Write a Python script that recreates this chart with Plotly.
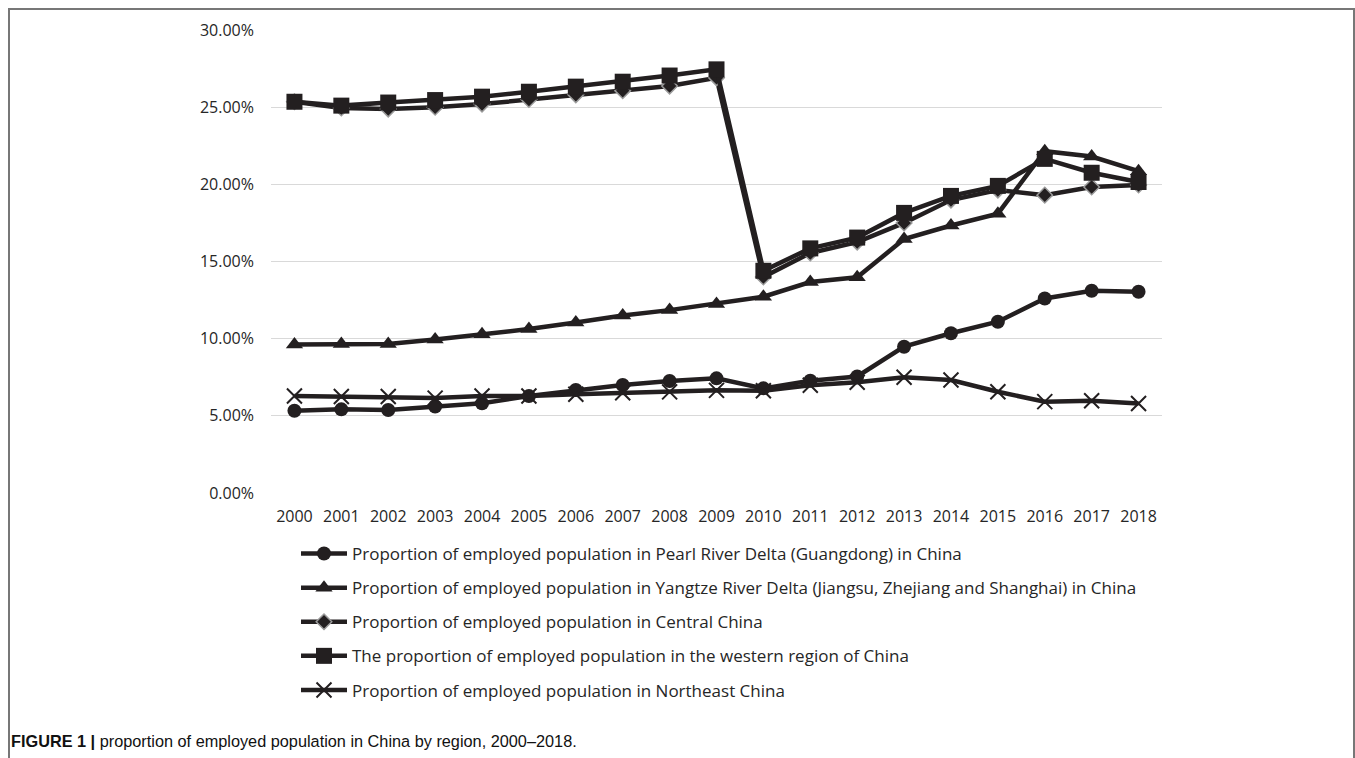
import plotly.graph_objects as go

years = [str(y) for y in range(2000, 2019)]

pearl = [5.33, 5.42, 5.38, 5.60, 5.81, 6.28, 6.67, 7.00, 7.26, 7.43, 6.78, 7.28, 7.55, 9.48, 10.35, 11.10, 12.60, 13.10, 13.04]
yangtze = [9.62, 9.65, 9.65, 9.95, 10.28, 10.62, 11.05, 11.50, 11.85, 12.25, 12.72, 13.67, 13.98, 16.45, 17.33, 18.10, 22.15, 21.80, 20.85]
central = [25.35, 24.95, 24.88, 25.00, 25.20, 25.50, 25.80, 26.07, 26.37, 26.90, 14.00, 15.55, 16.26, 17.50, 18.98, 19.63, 19.30, 19.83, 19.96]
western = [25.35, 25.10, 25.30, 25.46, 25.68, 26.00, 26.33, 26.65, 27.05, 27.45, 14.40, 15.85, 16.55, 18.15, 19.25, 19.90, 21.65, 20.75, 20.15]
northeast = [6.28, 6.25, 6.25, 6.15, 6.28, 6.28, 6.40, 6.50, 6.55, 6.65, 6.62, 6.98, 7.18, 7.50, 7.32, 6.56, 5.92, 5.98, 5.80]

names = [
    "Proportion of employed population in Pearl River Delta (Guangdong) in China",
    "Proportion of employed population in Yangtze River Delta (Jiangsu, Zhejiang and Shanghai) in China",
    "Proportion of employed population in Central China",
    "The proportion of employed population in the western region of China",
    "Proportion of employed population in Northeast China",
]
y_ticks = [0, 5, 10, 15, 20, 25, 30]
y_tick_text = ["0.00%", "5.00%", "10.00%", "15.00%", "20.00%", "25.00%", "30.00%"]

INK = "#231f20"
series = [pearl, yangtze, central, western, northeast]
symbols = ["circle", "triangle-up", "diamond", "square", "x-thin"]
msizes = [14, 15, 12, 16, 15]

W, H = 1355, 758
L, R, T, B = 271, 1355 - 1162, 30, 758 - 493
pw, ph = W - L - R, H - T - B

def px_x(x):
    return (x - L) / pw

def px_y(y):
    return (H - B - y) / ph

FONT = "Open Sans, Lato, sans-serif"

fig = go.Figure()
for i, (vals, name, sym, ms) in enumerate(zip(series, names, symbols, msizes)):
    if sym == "x-thin":
        marker = dict(symbol=sym, size=ms, color=INK, line=dict(width=2, color=INK))
    elif sym == "diamond":
        marker = dict(symbol=sym, size=ms, color=INK, line=dict(width=1.5, color="#9a9a9a"))
    else:
        marker = dict(symbol=sym, size=ms, color=INK, line=dict(width=0))
    fig.add_trace(go.Scatter(
        x=years, y=vals, name=name, mode="lines+markers",
        line=dict(color=INK, width=4.5), marker=marker,
        legendgroup=f"g{i}",
    ))

fig.update_layout(
    width=W, height=H,
    margin=dict(l=L, r=R, t=T, b=B),
    paper_bgcolor="white", plot_bgcolor="white",
    font=dict(family=FONT, size=16, color="#262626"),
    showlegend=True,
    legend=dict(
        x=px_x(296), y=px_y(536), xanchor="left", yanchor="top",
        orientation="v", tracegroupgap=9, itemwidth=46,
        font=dict(family=FONT, size=17, color="#262626"),
        bgcolor="rgba(0,0,0,0)",
    ),
    xaxis=dict(
        type="category", range=[-0.5, 18.5], showgrid=False, showline=False, zeroline=False,
        ticks="", tickfont=dict(size=16), ticklabelstandoff=12,
    ),
    yaxis=dict(
        range=[0, 30], tickmode="array", tickvals=y_ticks, ticktext=y_tick_text,
        showgrid=True, gridcolor="#d9d9d9", gridwidth=1,
        zeroline=False, showline=False, ticks="",
        tickfont=dict(size=16), ticklabelstandoff=16,
    ),
)

fig.add_shape(
    type="rect", xref="paper", yref="paper",
    x0=px_x(9), x1=px_x(1354), y0=px_y(770), y1=px_y(9),
    line=dict(color="#777777", width=2), fillcolor="rgba(0,0,0,0)", layer="above",
)

fig.add_annotation(
    xref="paper", yref="paper", x=px_x(9), y=px_y(741),
    xanchor="left", yanchor="middle", showarrow=False,
    text="<b>FIGURE 1 |</b> proportion of employed population in China by region, 2000–2018.",
    font=dict(family="Liberation Sans, Arial, sans-serif", size=16.3, color="#111111"),
)

fig.write_html("out.html")
